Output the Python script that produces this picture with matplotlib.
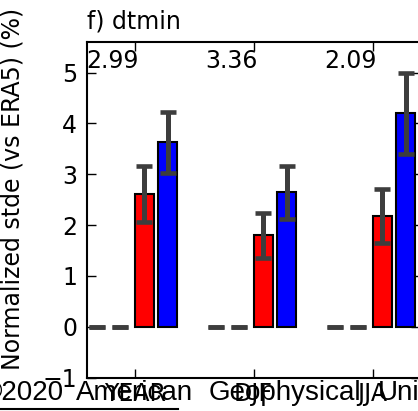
import matplotlib
matplotlib.use('Agg')
import matplotlib.pyplot as plt
import numpy as np

# data
groups = ['YEAR', 'DJF', 'JJA']
top_labels = ['2.99', '3.36', '2.09']
zero_a = [0.0, 0.0, 0.0]
zero_b = [0.0, 0.0, 0.0]
red_vals = [2.61, 1.80, 2.18]
red_err = [0.56, 0.44, 0.535]
blue_vals = [3.63, 2.64, 4.20]
blue_err = [0.60, 0.53, 0.80]

series = [zero_a, zero_b, red_vals, blue_vals]
errors = [[0, 0, 0], [0, 0, 0], red_err, blue_err]
faces = ['none', 'none', 'red', 'blue']
edges = ['none', 'none', 'black', 'black']

W, H, DPI = 418, 411, 100
fig = plt.figure(figsize=(W / DPI, H / DPI), dpi=DPI)
plt.rcParams['font.family'] = 'DejaVu Sans'
FS = 17

# axes placed in pixels (right edge runs slightly past the figure)
left, right, top, bottom = 87, 420.2, 42, 377.5
ax = fig.add_axes([left / W, 1 - bottom / H, (right - left) / W, (bottom - top) / H])

x = np.arange(len(groups))
w = 0.16
for j, (vals, err) in enumerate(zip(series, errors)):
    pos = x - 0.4 + j * 0.2
    ax.bar(pos, vals, width=w, align='edge', color=faces[j], edgecolor=edges[j],
           linewidth=1.5, zorder=2)
    ax.errorbar(pos + w / 2, vals, yerr=err, fmt='none', ecolor='#3d3d3d',
                elinewidth=3.6, capsize=5.6, capthick=3.3, zorder=3)

for i, t in enumerate(top_labels):
    ax.text(i - 0.405, 5.23, t, ha='left', va='center', fontsize=FS)

ax.set_xlim(-0.4, 2.4)
ax.set_ylim(-1, 5.6)
ax.set_xticks(x)
ax.set_xticklabels(groups)
ax.set_yticks([-1, 0, 1, 2, 3, 4, 5])
ax.tick_params(direction='in', length=6.5, width=1, top=True, right=True,
               labelsize=FS)
ax.tick_params(axis='y', pad=7)
ax.tick_params(axis='x', pad=3)
for s in ax.spines.values():
    s.set_linewidth(1.5)

fig.text(left / W, 1 - 28.3 / H, 'f) dtmin', ha='left', va='baseline', fontsize=FS)
fig.text(13 / W, 1 - 189 / H, 'Normalized stde (vs ERA5) (%)', rotation=90,
         ha='center', va='center', fontsize=FS)

# publisher watermark across the bottom (words spaced as in the source)
for xp, word in [(-18.8, '\u00a92020'), (76, 'American'), (208.5, 'Geophysical'),
                 (378, 'Union')]:
    fig.text(xp / W, 1 - 399.5 / H, word, ha='left', va='baseline', fontsize=20,
             family='Liberation Sans')
fig.add_artist(plt.Line2D([0, 178 / W], [1 - 408.5 / H] * 2, color='black', lw=1.5,
                          transform=fig.transFigure))

fig.savefig('out.png', dpi=DPI)
